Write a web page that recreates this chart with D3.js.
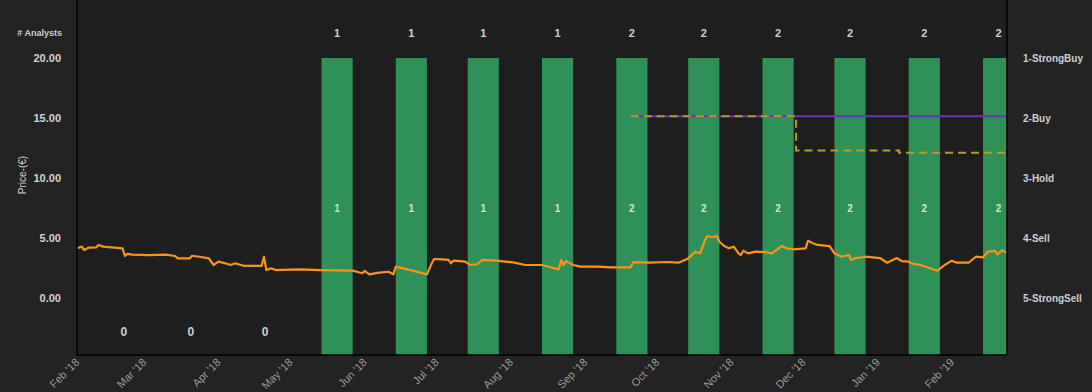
<!DOCTYPE html>
<html lang="en">
<head>
    <meta charset="UTF-8">
    <title>Analyst Ratings and Price</title>
    <script src="https://cdnjs.cloudflare.com/ajax/libs/d3/7.8.5/d3.min.js"></script>
    <style>
        body {
            margin: 0;
            background: #232323;
            font-family: "Liberation Sans", Arial, sans-serif;
        }
        .tick-label {
            fill: #d4d4d4;
            font-size: 11px;
            font-weight: bold;
        }
        .rating-label {
            fill: #cfcfcf;
            font-size: 10px;
            font-weight: bold;
        }
        .x-label {
            fill: #9a9a9a;
            font-size: 11px;
        }
        .count-label {
            fill: #cfcfcf;
            font-size: 11px;
            font-weight: bold;
            text-anchor: middle;
        }
        .inner-label {
            fill: #cdeab8;
            font-size: 10px;
            font-weight: bold;
            text-anchor: middle;
        }
    </style>
</head>
<body>
    <div id="chart"></div>

    <script>
        // Monthly analyst periods
        const periodStart = ["2018-02-14", "2018-03-14", "2018-04-14", "2018-05-14", "2018-06-14", "2018-07-14",
            "2018-08-14", "2018-09-14", "2018-10-14", "2018-11-14", "2018-12-14", "2019-01-14", "2019-02-14"];
        const periodEnd = ["2018-02-27", "2018-03-27", "2018-04-27", "2018-05-27", "2018-06-27", "2018-07-27",
            "2018-08-27", "2018-09-27", "2018-10-27", "2018-11-27", "2018-12-27", "2019-01-27", "2019-02-27"];
        const analystCount = [0, 0, 0, 1, 1, 1, 1, 2, 2, 2, 2, 2, 2];
        const consensusRating = [null, null, null, 1, 1, 1, 1, 1, 1, 1, 1, 1, 1];

        const ratingNames = ["1-StrongBuy", "2-Buy", "3-Hold", "4-Sell", "5-StrongSell"];
        const priceTicks = [0, 5, 10, 15, 20];

        // Price (EUR)
        const priceDates = ["2018-02-01", "2018-02-03", "2018-02-04", "2018-02-06", "2018-02-09", "2018-02-10",
            "2018-02-12", "2018-02-20", "2018-02-21", "2018-02-22", "2018-02-24", "2018-03-03", "2018-03-10",
            "2018-03-14", "2018-03-15", "2018-03-20", "2018-03-21", "2018-03-24", "2018-03-28", "2018-03-30",
            "2018-04-01", "2018-04-04", "2018-04-06", "2018-04-08", "2018-04-12", "2018-04-19", "2018-04-20",
            "2018-04-21", "2018-04-23", "2018-04-25", "2018-05-05", "2018-05-13", "2018-05-27", "2018-05-31",
            "2018-06-01", "2018-06-03", "2018-06-07", "2018-06-11", "2018-06-13", "2018-06-14", "2018-06-17",
            "2018-06-21", "2018-06-27", "2018-06-29", "2018-06-30", "2018-07-03", "2018-07-06", "2018-07-07",
            "2018-07-08", "2018-07-13", "2018-07-15", "2018-07-18", "2018-07-20", "2018-07-26", "2018-08-02",
            "2018-08-07", "2018-08-14", "2018-08-21", "2018-08-22", "2018-08-23", "2018-08-24", "2018-08-27",
            "2018-08-30", "2018-09-06", "2018-09-12", "2018-09-20", "2018-09-21", "2018-09-24", "2018-09-28",
            "2018-10-05", "2018-10-10", "2018-10-14", "2018-10-17", "2018-10-19", "2018-10-21", "2018-10-22",
            "2018-10-24", "2018-10-26", "2018-10-27", "2018-10-29", "2018-10-31", "2018-11-02", "2018-11-04",
            "2018-11-05", "2018-11-06", "2018-11-08", "2018-11-11", "2018-11-15", "2018-11-18", "2018-11-22",
            "2018-11-24", "2018-11-27", "2018-12-02", "2018-12-03", "2018-12-05", "2018-12-07", "2018-12-12",
            "2018-12-14", "2018-12-17", "2018-12-20", "2018-12-21", "2018-12-23", "2018-12-27", "2019-01-02",
            "2019-01-05", "2019-01-09", "2019-01-11", "2019-01-14", "2019-01-15", "2019-01-19", "2019-01-25",
            "2019-01-26", "2019-01-29", "2019-02-01", "2019-02-03", "2019-02-08", "2019-02-11", "2019-02-14",
            "2019-02-16", "2019-02-19", "2019-02-20", "2019-02-22", "2019-02-24"];
        const priceValues = [4.14, 4.28, 4.0, 4.2, 4.22, 4.42,
            4.28, 4.14, 3.5, 3.67, 3.62, 3.58, 3.62,
            3.5, 3.3, 3.3, 3.52, 3.44, 3.3, 2.75,
            3.03, 2.89, 2.75, 2.89, 2.67, 2.67, 3.44,
            2.33, 2.47, 2.33, 2.39, 2.33, 2.28, 2.06,
            2.25, 1.97, 2.11, 2.19, 1.97, 2.61, 2.47,
            2.28, 1.97, 2.89, 3.25, 3.22, 3.17, 2.89,
            3.11, 3.03, 2.75, 2.81, 3.17, 3.11, 2.97,
            2.75, 2.75, 2.39, 3.17, 2.75, 3.08, 2.75,
            2.61, 2.61, 2.56, 2.56, 2.97, 2.97, 2.94,
            3.0, 2.94, 3.3, 3.86, 3.72, 4.83, 5.17,
            5.06, 5.17, 4.69, 4.33, 4.14, 4.28, 3.72,
            3.58, 3.94, 3.72, 3.86, 3.83, 3.72, 4.33,
            4.14, 4.06, 4.14, 4.78, 4.56, 4.42, 4.33,
            3.72, 3.44, 3.58, 3.17, 3.33, 3.44, 3.33,
            2.94, 3.33, 3.08, 3.03, 2.89, 2.75, 2.33,
            2.28, 2.75, 3.11, 2.94, 2.94, 3.44, 3.39,
            3.86, 3.92, 3.64, 3.97, 3.78];

        // Target prices
        const highTargetDates = ["2018-09-20", "2019-02-24"];
        const highTargetValues = [15.15, 15.15];
        const meanTargetDates = ["2018-09-20", "2018-11-28", "2018-11-28", "2019-01-10", "2019-01-10", "2019-02-24"];
        const meanTargetValues = [15.15, 15.15, 12.3, 12.3, 12.1, 12.1];

        const parseDate = d3.timeParse("%Y-%m-%d");
        const W = 1092, H = 392;
        const plot = {left: 77, right: 1007, top: 0, bottom: 355};

        const svg = d3.select("#chart").append("svg")
            .attr("width", W)
            .attr("height", H);

        const x = d3.scaleTime()
            .domain([parseDate("2018-02-01"), parseDate("2019-02-24")])
            .range([plot.left, plot.right]);

        const y = d3.scaleLinear()
            .domain([0, 20])
            .range([298, 58]);

        const yRating = d3.scaleLinear()
            .domain([1, 5])
            .range([y(20), y(0)]);

        // plot background
        svg.append("rect")
            .attr("x", plot.left)
            .attr("y", plot.top)
            .attr("width", plot.right - plot.left)
            .attr("height", plot.bottom - plot.top)
            .attr("fill", "#1e1e1e");

        const g = svg.append("g");

        // consensus bars
        const periods = periodStart.map((s, i) => ({
            start: parseDate(s),
            end: parseDate(periodEnd[i]),
            count: analystCount[i],
            rating: consensusRating[i]
        }));

        g.selectAll(".bar")
            .data(periods.filter(d => d.count > 0))
            .enter().append("rect")
            .attr("class", "bar")
            .attr("x", d => x(d.start))
            .attr("y", d => yRating(d.rating))
            .attr("width", d => Math.min(x(d.end), plot.right) - x(d.start))
            .attr("height", d => plot.bottom - yRating(d.rating))
            .attr("fill", "#2f9157");

        const mid = d => new Date((d.start.getTime() + d.end.getTime()) / 2);

        // analyst counts on top
        g.selectAll(".count-top")
            .data(periods.filter(d => d.count > 0))
            .enter().append("text")
            .attr("class", "count-label")
            .attr("x", d => x(mid(d)))
            .attr("y", 37)
            .text(d => d.count);

        g.selectAll(".count-in")
            .data(periods.filter(d => d.count > 0))
            .enter().append("text")
            .attr("class", "inner-label")
            .attr("x", d => x(mid(d)))
            .attr("y", 212)
            .text(d => d.count);

        g.selectAll(".count-zero")
            .data(periods.filter(d => d.count === 0))
            .enter().append("text")
            .attr("class", "count-label")
            .style("font-size", "12px")
            .attr("x", d => x(mid(d)))
            .attr("y", 336)
            .text(d => d.count);

        // target lines
        const highTarget = highTargetDates.map((d, i) => ({date: parseDate(d), value: highTargetValues[i]}));
        const meanTarget = meanTargetDates.map((d, i) => ({date: parseDate(d), value: meanTargetValues[i]}));
        const tline = d3.line().x(d => x(d.date)).y(d => y(d.value));

        g.append("path")
            .datum(highTarget)
            .attr("d", tline)
            .attr("fill", "none")
            .attr("stroke", "#6a35b3")
            .attr("stroke-width", 2);

        g.append("path")
            .datum(meanTarget)
            .attr("d", tline)
            .attr("fill", "none")
            .attr("stroke", "#b59b2c")
            .attr("stroke-width", 2)
            .attr("stroke-dasharray", "8,5");

        // price line
        const price = priceDates.map((d, i) => ({date: parseDate(d), value: priceValues[i]}));
        g.append("path")
            .datum(price)
            .attr("d", d3.line().x(d => x(d.date)).y(d => y(d.value)))
            .attr("fill", "none")
            .attr("stroke", "#f7941d")
            .attr("stroke-width", 2.2)
            .attr("stroke-linejoin", "round");

        // frame
        svg.append("path")
            .attr("d", `M${plot.left},${plot.top}V${plot.bottom}H${plot.right}V${plot.top}`)
            .attr("fill", "none")
            .attr("stroke", "#000")
            .attr("stroke-width", 1.5);

        // left axis labels
        svg.selectAll(".ytick")
            .data(priceTicks)
            .enter().append("text")
            .attr("class", "tick-label")
            .attr("x", 61)
            .attr("y", d => y(d) + 4)
            .attr("text-anchor", "end")
            .text(d => d3.format(".2f")(d));

        svg.append("text")
            .attr("class", "rating-label")
            .style("font-size", "9px")
            .attr("x", 62)
            .attr("y", 36)
            .attr("text-anchor", "end")
            .text("# Analysts");

        svg.append("text")
            .attr("transform", `translate(26,${y(10) - 3}) rotate(-90)`)
            .attr("fill", "#cfcfcf")
            .style("font-size", "10px")
            .attr("text-anchor", "middle")
            .text("Price-(€)");

        // right rating labels
        svg.selectAll(".rating")
            .data(ratingNames)
            .enter().append("text")
            .attr("class", "rating-label")
            .attr("x", 1023)
            .attr("y", (d, i) => yRating(i + 1) + 4)
            .text(d => d);

        // x axis labels
        const fmt = d3.timeFormat("%b '%y");
        svg.selectAll(".xtick")
            .data(x.ticks(d3.timeMonth.every(1)))
            .enter().append("text")
            .attr("class", "x-label")
            .attr("text-anchor", "end")
            .attr("transform", d => `translate(${x(d) + 3},${plot.bottom + 8}) rotate(-45)`)
            .text(fmt);
    </script>
</body>
</html>
